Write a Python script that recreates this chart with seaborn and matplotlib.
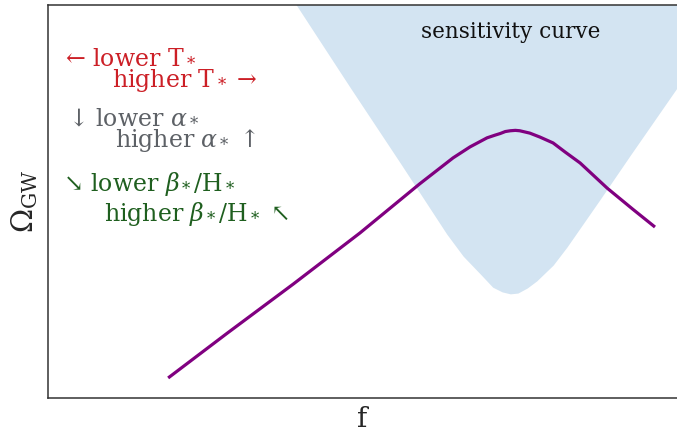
import matplotlib
matplotlib.use("Agg")
import matplotlib.pyplot as plt
import seaborn as sns
import pandas as pd

# signal spectrum (log f, log Omega), arbitrary units
log_f = [1.91, 2.85, 3.90, 4.96, 5.91, 6.44, 6.71, 6.98, 7.11, 7.19, 7.27,
         7.35, 7.43, 7.50, 7.66, 7.82, 8.03, 8.22, 8.46, 8.89, 9.30, 9.65]
log_omega = [0.51, 1.65, 2.90, 4.20, 5.45, 6.11, 6.39, 6.62, 6.69, 6.73, 6.78,
             6.80, 6.81, 6.80, 6.74, 6.64, 6.49, 6.26, 5.98, 5.34, 4.80, 4.35]

# detector sensitivity curve
sens_f = [3.69, 3.96, 4.80, 5.60, 6.34, 6.60, 6.87, 7.07, 7.22, 7.35, 7.47,
          7.62, 7.77, 8.03, 8.25, 8.78, 9.25, 10.0, 10.37]
sens_omega = [10.64, 9.97, 7.91, 5.98, 4.17, 3.61, 3.16, 2.82, 2.70, 2.65, 2.67,
              2.80, 2.98, 3.38, 3.84, 5.06, 6.16, 7.89, 8.73]

labels = [r"← lower T$_*$", r"higher T$_*$ →",
          r"↓ lower $\alpha_*$", r"higher $\alpha_*$ ↑",
          r"↘ lower $\beta_*$/H$_*$", r"higher $\beta_*$/H$_*$ ↖"]
label_colors = ["#cc1f26", "#cc1f26", "#5d6166", "#5d6166", "#1f5f1f", "#1f5f1f"]
label_x = [0.27, 1.02, 0.32, 1.07, 0.24, 0.89]
label_y = [8.68, 8.09, 7.15, 6.56, 5.45, 4.68]

sns.set_style("white")
plt.rcParams["font.family"] = ["DejaVu Serif"]
plt.rcParams["mathtext.fontset"] = "dejavuserif"

fig = plt.figure(figsize=(6.77, 4.36), dpi=100)
ax = fig.add_axes([48 / 677, 38 / 436, 1 - 48 / 677, 393 / 436])

ax.fill_between(sens_f, sens_omega, 11, color="#d3e4f2", linewidth=0, zorder=1)
sig = pd.DataFrame({"f": log_f, "omega": log_omega})
sns.lineplot(data=sig, x="f", y="omega", color="#800080", linewidth=2.3,
             ax=ax, zorder=3, solid_capstyle="butt", solid_joinstyle="round")

ax.text(7.35, 9.31, "sensitivity curve", fontsize=15.5, ha="center", va="center",
        color="#111111", zorder=4)
for txt, c, x, y in zip(labels, label_colors, label_x, label_y):
    ax.text(x, y, txt, color=c, fontsize=17, ha="left", va="center", zorder=4)

ax.set_xlim(0, 10)
ax.set_ylim(0, 10)
ax.set_xticks([])
ax.set_yticks([])
ax.set_xlabel("f", fontsize=20, labelpad=6)
ax.set_ylabel(r"$\Omega_{\rm GW}$", fontsize=21, labelpad=6)
for side in ["left", "bottom", "top"]:
    ax.spines[side].set_color("#333333")
    ax.spines[side].set_linewidth(1.1)
ax.spines["right"].set_visible(False)

fig.savefig("out.png", dpi=100)
